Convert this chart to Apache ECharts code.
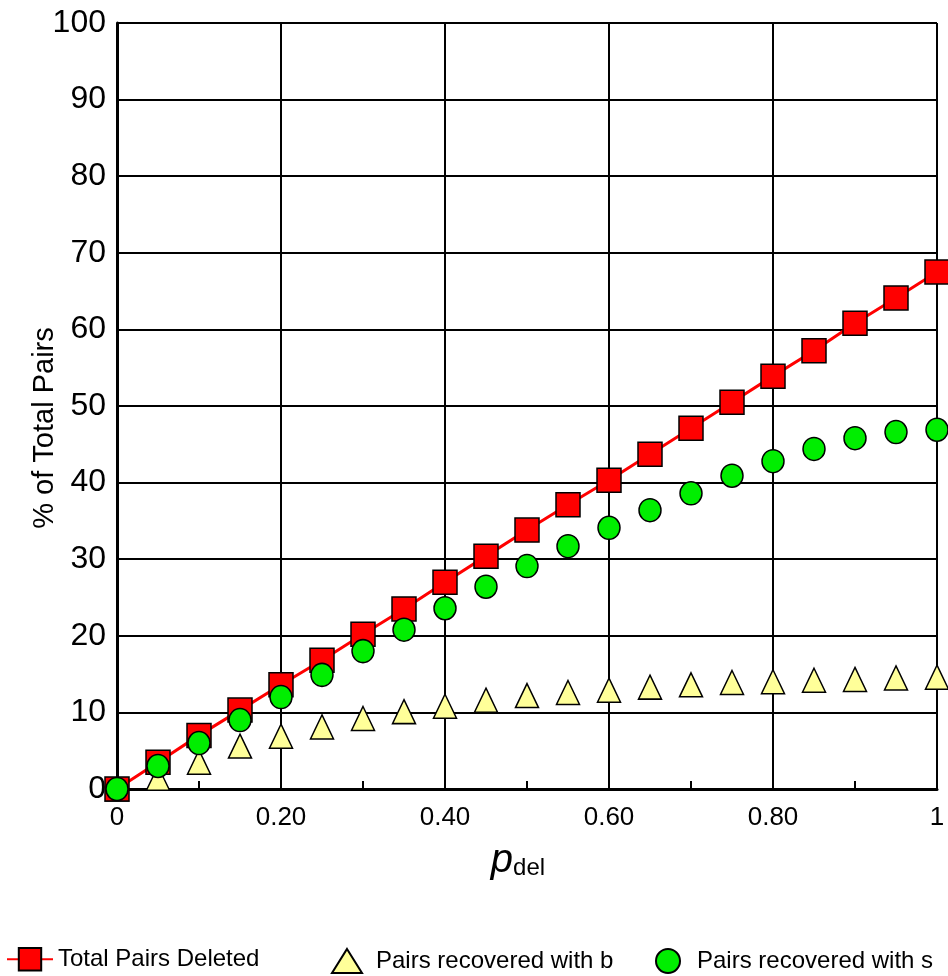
<!DOCTYPE html>
<html>
<head>
<meta charset="utf-8">
<script src="https://cdn.jsdelivr.net/npm/echarts@6/dist/echarts.min.js"></script>
<style>
html,body{margin:0;padding:0;background:#fff;}
#chart{width:948px;height:976px;}
</style>
</head>
<body>
<div id="chart"></div>
<script>
const pdel = [0, 0.05, 0.10, 0.15, 0.20, 0.25, 0.30, 0.35, 0.40, 0.45, 0.50, 0.55, 0.60, 0.65, 0.70, 0.75, 0.80, 0.85, 0.90, 0.95, 1.00];
const totalDeleted = [0, 3.5, 7.0, 10.3, 13.6, 16.8, 20.2, 23.5, 27.0, 30.4, 33.8, 37.1, 40.3, 43.7, 47.1, 50.5, 53.9, 57.2, 60.8, 64.1, 67.5];
const recoveredB = [0, 1.4, 3.5, 5.6, 6.9, 8.1, 9.2, 10.1, 10.8, 11.6, 12.2, 12.6, 12.9, 13.3, 13.6, 13.9, 14.0, 14.2, 14.3, 14.5, 14.6];
const recoveredS = [0, 3.0, 6.0, 9.0, 12.0, 14.9, 18.0, 20.8, 23.6, 26.4, 29.1, 31.7, 34.1, 36.4, 38.6, 40.9, 42.8, 44.4, 45.8, 46.6, 46.9];
const xTickLabels = ['0', '0.20', '0.40', '0.60', '0.80', '1'];
const seriesNames = ['Total Pairs Deleted', 'Pairs recovered with b', 'Pairs recovered with s'];

const FONT = '"Liberation Sans", Arial, sans-serif';
const pairs = arr => pdel.map((x, i) => [x, arr[i]]);

const chart = echarts.init(document.getElementById('chart'), null, {renderer: 'canvas'});
const legendText = (padLeft) => ({fontFamily: FONT, fontSize: 24, color: '#000', padding: [0, 0, 0, padLeft]});
chart.setOption({
  animation: false,
  backgroundColor: '#fff',
  grid: {left: 117, right: 11, top: 23, bottom: 187},
  legend: [
    {data: [seriesNames[0]], left: 6, top: 947, itemWidth: 46, itemHeight: 28, textStyle: legendText(0), padding: 0},
    {data: [seriesNames[1]], left: 331, top: 948, itemWidth: 30, itemHeight: 24, textStyle: legendText(9), padding: 0},
    {data: [seriesNames[2]], left: 655, top: 948, itemWidth: 26, itemHeight: 24, textStyle: legendText(11), padding: 0}
  ],
  xAxis: {
    type: 'value', min: 0, max: 1, interval: 0.2,
    name: '{p|p}{s|del}', nameLocation: 'middle', nameGap: 52,
    nameTextStyle: {
      padding: [0, 18, 0, 0],
      rich: {
        p: {fontFamily: FONT, fontSize: 40, fontStyle: 'italic', color: '#000'},
        s: {fontFamily: FONT, fontSize: 24, color: '#000', padding: [14, 0, 0, 0]}
      }
    },
    axisLine: {show: true, lineStyle: {color: '#000', width: 3}},
    axisTick: {show: true, inside: true, length: 8, lineStyle: {color: '#000', width: 2}},
    minorTick: {show: true, splitNumber: 2, length: 8, lineStyle: {color: '#000', width: 2}},
    splitLine: {show: true, lineStyle: {color: '#000', width: 2}},
    axisLabel: {
      fontFamily: FONT, fontSize: 26, color: '#000', margin: 16,
      formatter: v => xTickLabels[Math.round(v / 0.2)]
    }
  },
  yAxis: {
    type: 'value', min: 0, max: 100, interval: 10,
    name: '% of Total Pairs', nameLocation: 'middle', nameGap: 58, nameRotate: 90,
    nameMoveOverlap: false,
    nameTextStyle: {fontFamily: FONT, fontSize: 29, color: '#000', padding: [0, 44, 0, 0]},
    axisLine: {show: true, lineStyle: {color: '#000', width: 3}},
    axisTick: {show: false},
    splitLine: {show: true, lineStyle: {color: '#000', width: 2}},
    axisLabel: {fontFamily: FONT, fontSize: 32, color: '#000', margin: 11}
  },
  series: [
    {
      name: seriesNames[0], type: 'line', data: pairs(totalDeleted), z: 3,
      symbol: 'rect', symbolSize: 24, showAllSymbol: true,
      lineStyle: {color: '#ff0000', width: 3},
      itemStyle: {color: '#ff0000', borderColor: '#000', borderWidth: 1.5}
    },
    {
      name: seriesNames[1], type: 'scatter', data: pairs(recoveredB), z: 2,
      symbol: 'triangle', symbolSize: [23, 24],
      itemStyle: {color: '#ffff99', borderColor: '#000', borderWidth: 1.5, opacity: 1}
    },
    {
      name: seriesNames[2], type: 'scatter', data: pairs(recoveredS), z: 4,
      symbol: 'circle', symbolSize: [22, 23],
      itemStyle: {color: '#00ee00', borderColor: '#000', borderWidth: 1.5, opacity: 1}
    }
  ]
});
</script>
</body>
</html>
